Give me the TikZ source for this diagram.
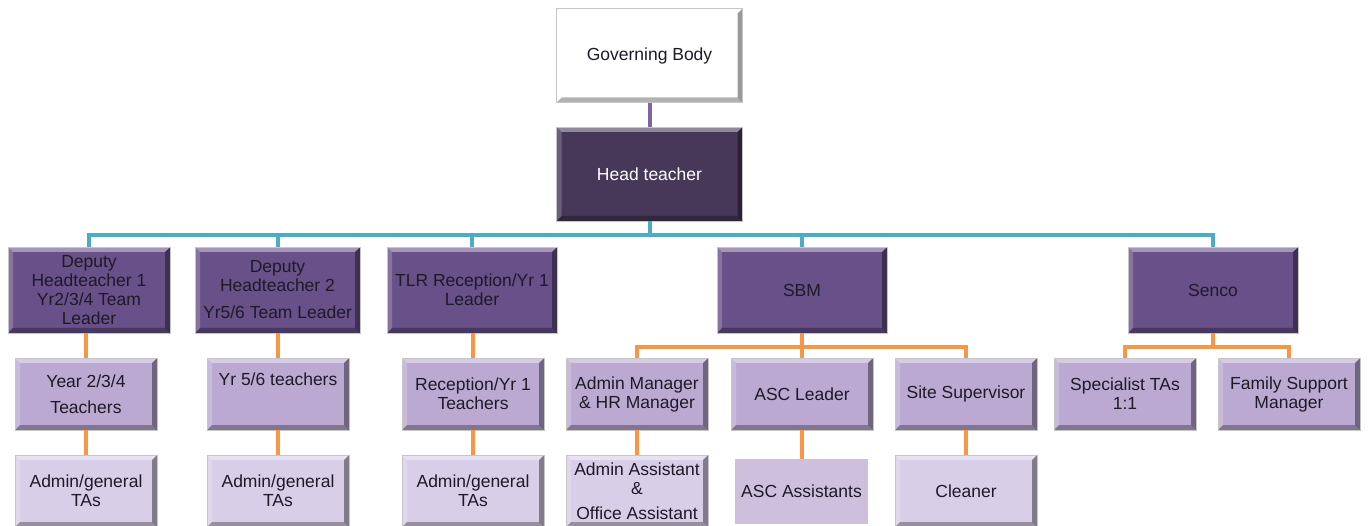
\documentclass[tikz,border=0pt]{standalone}
\usepackage{fontspec}
\setmainfont{Liberation Sans}

\definecolor{headpurple}{HTML}{47385A}
\definecolor{rolepurple}{HTML}{685088}
\definecolor{staffpurple}{HTML}{BBA9D2}
\definecolor{supportpurple}{HTML}{D8CEE8}
\definecolor{flatpurple}{HTML}{CEC0DC}
\definecolor{linkpurple}{HTML}{8064A2}
\definecolor{linkteal}{HTML}{4BACC6}
\definecolor{linkorange}{HTML}{F79646}
\definecolor{darktext}{HTML}{1E1A28}

\tikzset{
  bevel/.style={path picture={
    \fill[white,opacity=.4] (path picture bounding box.north west) -- (path picture bounding box.north east)
      -- ([xshift=-5pt,yshift=-5pt]path picture bounding box.north east) -- ([xshift=5pt,yshift=-5pt]path picture bounding box.north west) -- cycle;
    \fill[white,opacity=.2] (path picture bounding box.north west) -- (path picture bounding box.south west)
      -- ([xshift=5pt,yshift=5pt]path picture bounding box.south west) -- ([xshift=5pt,yshift=-5pt]path picture bounding box.north west) -- cycle;
    \fill[black,opacity=.3] (path picture bounding box.south west) -- (path picture bounding box.south east)
      -- ([xshift=-5pt,yshift=5pt]path picture bounding box.south east) -- ([xshift=5pt,yshift=5pt]path picture bounding box.south west) -- cycle;
    \fill[black,opacity=.4] (path picture bounding box.north east) -- (path picture bounding box.south east)
      -- ([xshift=-5pt,yshift=5pt]path picture bounding box.south east) -- ([xshift=-5pt,yshift=-5pt]path picture bounding box.north east) -- cycle;
  }},
  box/.style={rectangle, draw=gray!45, line width=0.7pt, inner sep=0pt, align=center,
    text=darktext, font=\fontsize{17.5}{19}\selectfont, bevel},
  topbox/.style={box, minimum width=186, minimum height=94},
  rolebox/.style={box, fill=rolepurple, minimum width=170, minimum height=86},
  staffbox/.style={box, fill=staffpurple, minimum width=142, minimum height=72},
  supportbox/.style={box, fill=supportpurple, minimum width=142, minimum height=72},
  flatbox/.style={rectangle, fill=flatpurple, inner sep=0pt, align=center, text=darktext,
    font=\fontsize{17.5}{19}\selectfont, minimum width=133, minimum height=65},
  link/.style={line width=4pt},
}

\begin{document}
\begin{tikzpicture}[x=1pt, y=-1pt]
    \useasboundingbox (0,0) rectangle (1368,526);
    \clip (0,0) rectangle (1368,526);
    %% governors and head
    \node[topbox, fill=white] (gov) at (649.5,55.5) {Governing Body};
    \node[topbox, fill=headpurple, text=white] (head) at (649.5,174) {Head teacher};
    \draw[link, linkpurple] (gov) -- (head);
    %% leaders
    \node[rolebox, minimum width=162] (dep1) at (89,290) {Deputy\\Headteacher 1\\Yr2/3/4 Team\\Leader};
    \node[rolebox, minimum width=165] (dep2) at (277.5,290) {Deputy\\Headteacher 2\\[8pt]Yr5/6 Team Leader};
    \node[rolebox] (tlr) at (472,290) {TLR Reception/Yr 1\\Leader};
    \node[rolebox] (sbm) at (802,290) {SBM};
    \node[rolebox] (senco) at (1213,290) {Senco};
    \coordinate (bus) at (649.5,235);
    \draw[link, linkteal] (head) -- (bus);
    \foreach \n in {dep1,dep2,tlr,sbm,senco} \draw[link, linkteal] (bus) -| (\n.north);
    %% teachers and managers
    \node[staffbox] (yr234) at (86,394) {Year 2/3/4\\[7pt]Teachers};
    \node[staffbox, text height=13pt, text depth=29pt] (yr56) at (278,394) {Yr 5/6 teachers};
    \node[staffbox] (recep) at (473,394) {Reception/Yr 1\\Teachers};
    \node[staffbox] (adminmgr) at (637,394) {Admin Manager\\\& HR Manager};
    \node[staffbox] (ascleader) at (802,394) {ASC Leader};
    \node[staffbox] (site) at (966,394) {Site Supervisor};
    \node[staffbox] (spec) at (1125,394) {Specialist TAs\\1:1};
    \node[staffbox] (family) at (1289,394) {Family Support\\Manager};
    %% support staff
    \node[supportbox] (tas1) at (86,491) {Admin/general\\TAs};
    \node[supportbox] (tas2) at (278,491) {Admin/general\\TAs};
    \node[supportbox] (tas3) at (473,491) {Admin/general\\TAs};
    \node[supportbox] (adminasst) at (637,491) {Admin Assistant\\\&\\[6pt]Office Assistant};
    \node[flatbox] (ascasst) at (801.5,491.5) {ASC Assistants};
    \node[supportbox] (cleaner) at (966,491) {Cleaner};
    %% straight links down
    \foreach \a/\b in {dep1/yr234,dep2/yr56,tlr/recep,yr234/tas1,yr56/tas2,recep/tas3,adminmgr/adminasst,ascleader/ascasst,site/cleaner}
      \draw[link, linkorange] (\b.north |- \a.south) -- (\b.north);
    %% SBM and Senco branches
    \coordinate (sbmbus) at (802,347);
    \draw[link, linkorange] (sbm) -- (sbmbus);
    \foreach \n in {adminmgr,ascleader,site} \draw[link, linkorange] (sbmbus) -| (\n.north);
    \coordinate (sencobus) at (1213,347);
    \draw[link, linkorange] (senco) -- (sencobus);
    \foreach \n in {spec,family} \draw[link, linkorange] (sencobus) -| (\n.north);
\end{tikzpicture}
\end{document}
